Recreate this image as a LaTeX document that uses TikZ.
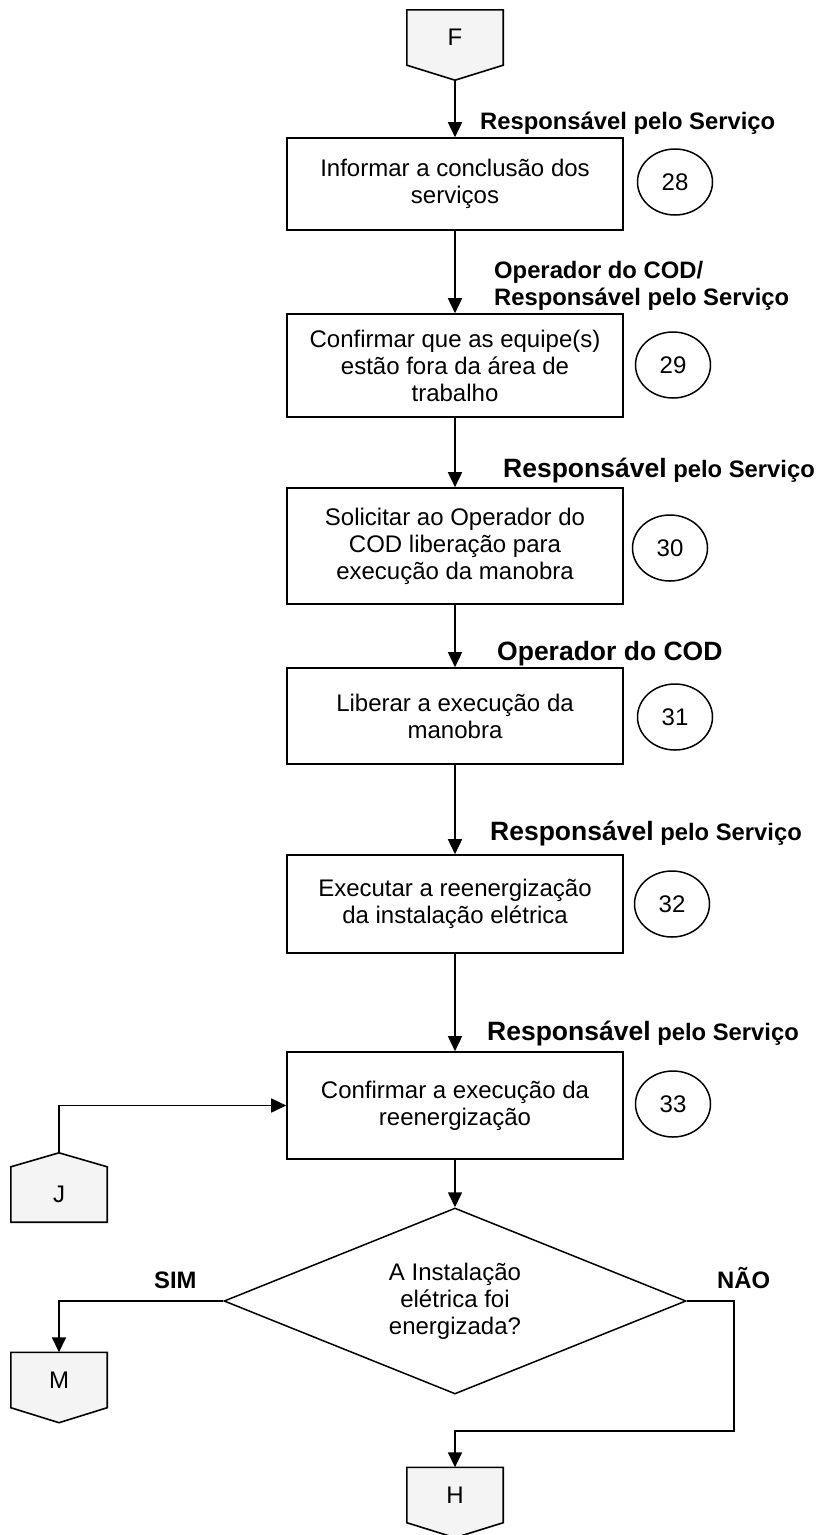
\documentclass[tikz,border=0pt]{standalone}
\usepackage{fontspec}
\setmainfont{Liberation Sans}
\usetikzlibrary{arrows.meta,shapes.geometric,backgrounds}

\newcommand{\caixafont}{\fontsize{24}{27}\selectfont}
\newcommand{\papelfont}{\bfseries\fontsize{23.8}{27}\selectfont}
\newcommand{\papelbig}{\bfseries\fontsize{26.5}{30}\selectfont}

\tikzset{
  etapa/.style={draw, line width=1.6pt, minimum width=336pt, inner sep=0pt, align=center, font=\caixafont},
  numero/.style={draw, ellipse, line width=1.5pt, minimum width=75pt, minimum height=66pt, inner sep=0pt, font=\caixafont},
  papel/.style={anchor=base west, inner sep=0pt, align=left, font=\papelfont},
  conector/.style={minimum width=96pt, minimum height=55pt, inner sep=0pt, font=\caixafont},
  decisao/.style={draw, diamond, aspect=2.5, line width=1.5pt, minimum width=462pt, minimum height=186pt, inner sep=0pt, align=center, font=\caixafont},
  fundo/.style={draw, fill=gray!9, line width=1.6pt},
  fluxo/.style={->, line width=1.6pt},
}

\begin{document}
\begin{tikzpicture}[x=1pt, y=-1pt, >={Triangle[length=15pt,width=14pt]}]
\useasboundingbox (0,0) rectangle (819,1535);
%\draw[help lines] (0,0) grid[step=50] (819,1535);
% conectores de pagina
\node[conector] (F) at (455,37.5) {F};
\node[conector] (J) at (59,1194.5) {J};
\node[conector] (M) at (59,1380) {M};
\node[conector] (H) at (455,1495) {H};
\coordinate (Fp) at ([yshift=-15pt]F.south);
\coordinate (Jp) at ([yshift=14pt]J.north);
\begin{scope}[on background layer]
\draw[fundo] (F.north west) -- (F.north east) -- (F.south east) -- (Fp) -- (F.south west) -- cycle;
\draw[fundo] (J.south west) -- (J.north west) -- (Jp) -- (J.north east) -- (J.south east) -- cycle;
\draw[fundo] (M.north west) -- (M.north east) -- (M.south east) -- ([yshift=-15pt]M.south) -- (M.south west) -- cycle;
\draw[fundo] (H.north west) -- (H.north east) -- (H.south east) -- ([yshift=-15pt]H.south) -- (H.south west) -- cycle;
\end{scope}
% etapas
\node[etapa, minimum height=92pt] (e28) at (455,184) {Informar a conclusão dos\\serviços};
\node[etapa, minimum height=103pt] (e29) at (455,365.5) {Confirmar que as equipe(s)\\estão fora da área de\\trabalho};
\node[etapa, minimum height=116pt] (e30) at (455,546) {Solicitar ao Operador do\\COD liberação para\\execução da manobra};
\node[etapa, minimum height=96pt] (e31) at (455,716) {Liberar a execução da\\manobra};
\node[etapa, minimum height=98pt] (e32) at (455,904) {Executar a reenergização\\da instalação elétrica};
\node[etapa, minimum height=107pt] (e33) at (455,1105.5) {Confirmar a execução da\\reenergização};
\node[decisao] (d) at (455,1301) {A Instalação\\elétrica foi\\energizada?};
% numeros
\node[numero] (n28) at (675,182) {28};
\node[numero] (n29) at (673,365) {29};
\node[numero] (n30) at (670,548) {30};
\node[numero] (n31) at (675,717) {31};
\node[numero] (n32) at (672,904) {32};
\node[numero] (n33) at (673,1104) {33};
% responsaveis
\node[papel] (p28) at (480,129) {Responsável pelo Serviço};
\node[papel] (p29) at (494,305) {Operador do COD/\\Responsável pelo Serviço};
\node[papel] (p30) at (503,477) {{\papelbig Responsável} pelo Serviço};
\node[papel, font=\papelbig] (p31) at (497,660) {Operador do COD};
\node[papel] (p32) at (490,840) {{\papelbig Responsável} pelo Serviço};
\node[papel] (p33) at (487,1040) {{\papelbig Responsável} pelo Serviço};
\node[papel] (sim) at (154,1288) {SIM};
\node[papel] (nao) at (717,1288) {NÃO};
% fluxo
\draw[fluxo] (Fp) -- (e28.north);
\draw[fluxo] (e28) -- (e29);
\draw[fluxo] (e29) -- (e30);
\draw[fluxo] (e30) -- (e31);
\draw[fluxo] (e31) -- (e32);
\draw[fluxo] (e32) -- (e33);
\draw[fluxo] (e33) -- (d);
\draw[fluxo] (Jp) |- (e33.west);
\draw[fluxo] (d.west) -| (M.north);
\coordinate (volta) at (734,1431);
\draw[fluxo] (d.east) -| (volta) -| (H.north);
\end{tikzpicture}
\end{document}
